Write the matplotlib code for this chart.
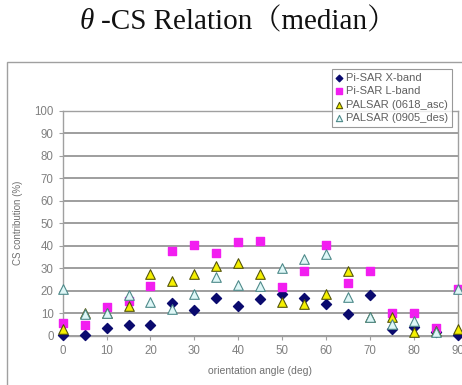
import numpy as np
import matplotlib
matplotlib.use("Agg")
import matplotlib.pyplot as plt
from matplotlib.patches import Rectangle

# data (CS contribution in %)
angle = [0, 5, 10, 15, 20, 25, 30, 35, 40, 45, 50, 55, 60, 65, 70, 75, 80, 85, 90]
xband = [0.5, 0.3, 3.4, 4.9, 4.9, 14.5, 11.5, 16.6, 13.2, 16.1, 18.5, 16.7, 14.1, 9.6, 17.9, 2.8, 4.0, 1.5, 0.3]
lband = [5.5, 4.9, 12.6, 15.6, 22.0, 37.5, 40.5, 36.9, 41.5, 42.3, 21.5, 28.6, 40.3, 23.3, 28.6, 10.2, 10.2, 3.4, 20.6]
palsar_asc = [3.1, 10.0, 10.0, 13.3, 27.4, 24.4, 27.4, 30.8, 32.3, 27.5, 15.1, 14.1, 18.5, 28.6, 8.3, 8.1, 1.8, 2.0, 3.0]
palsar_des = [20.6, 9.6, 10.0, 18.2, 15.0, 11.9, 18.6, 26.0, 22.4, 22.2, 30.0, 34.0, 36.3, 17.0, 8.1, 5.2, 6.4, 1.8, 20.6]

labels = ["Pi-SAR X-band", "Pi-SAR L-band", "PALSAR (0618_asc)", "PALSAR (0905_des)"]

W, H = 462, 385
fig = plt.figure(figsize=(W / 100.0, H / 100.0), dpi=100)
fig.patch.set_facecolor("white")

## axes placed in pixels of the reference
ax = fig.add_axes([62.7 / W, 1 - 335.7 / H, 395.0 / W, 225.0 / H])

ax.scatter(angle, xband, marker="D", s=26, color="#0a0a6e", zorder=3, clip_on=False, label=labels[0])
ax.scatter(angle, lband, marker="s", s=36, color="#f21ef0", zorder=4, clip_on=False, label=labels[1])
ax.scatter(angle, palsar_asc, marker="^", s=48, facecolor="#f5f000", edgecolor="#55550a",
           linewidth=0.8, zorder=5, clip_on=False, label=labels[2])
ax.scatter(angle, palsar_des, marker="^", s=48, facecolor="#dff7f7", edgecolor="#4e8a8a",
           linewidth=0.8, zorder=6, clip_on=False, label=labels[3])

ax.set_xlim(0, 90)
ax.set_ylim(0, 100)
ax.set_xticks(np.arange(0, 91, 10))
ax.set_yticks(np.arange(0, 101, 10))
ax.yaxis.grid(True, color="#8e8e8e", linewidth=1.2)
ax.set_axisbelow(True)
for sp in ax.spines.values():
    sp.set_color("#a0a0a0")
    sp.set_linewidth(1.0)
ax.tick_params(axis="both", labelsize=8.3, labelcolor="#808080", color="#a0a0a0", length=3)
for lab in ax.get_xticklabels() + ax.get_yticklabels():
    lab.set_family("Liberation Sans")

ax.set_xlabel("orientation angle (deg)", fontsize=7.5, color="#707070", family="Liberation Sans", labelpad=7)
ax.set_ylabel("CS contribution (%)", fontsize=7, color="#707070", family="Liberation Sans", labelpad=8)

leg = ax.legend(loc="upper right", bbox_to_anchor=(0.985, 1.185), borderaxespad=0,
                frameon=True, fancybox=False, handletextpad=0.3,
                handlelength=0.6, labelspacing=0.3, borderpad=0.35, scatterpoints=1,
                markerscale=0.65, prop={"family": "Liberation Sans", "size": 8})
leg.get_frame().set_edgecolor("#808080")
leg.get_frame().set_linewidth(0.8)
for t in leg.get_texts():
    t.set_color("#606060")
leg.set_zorder(10)

## outer chart area border (cut at right and bottom)
fig.add_artist(Rectangle((7.0 / W, -0.1), 1.0, (H - 62.0) / H + 0.1, transform=fig.transFigure,
                         fill=False, edgecolor="#a0a0a0", linewidth=1.0))

## title: italic theta + serif text with fullwidth parens
fig.text(80.0 / W, 1 - 22.0 / H, "\u03b8", fontsize=21, style="italic",
         family=["Liberation Serif", "DejaVu Serif"], ha="left", va="center", color="#111111")
fig.text(101.0 / W, 1 - 22.0 / H, "-CS Relation\uff08median\uff09", fontsize=21,
         family=["Liberation Serif", "Noto Serif CJK JP", "Noto Sans CJK JP"], ha="left", va="center", color="#111111")

fig.savefig("out.png", dpi=100)
